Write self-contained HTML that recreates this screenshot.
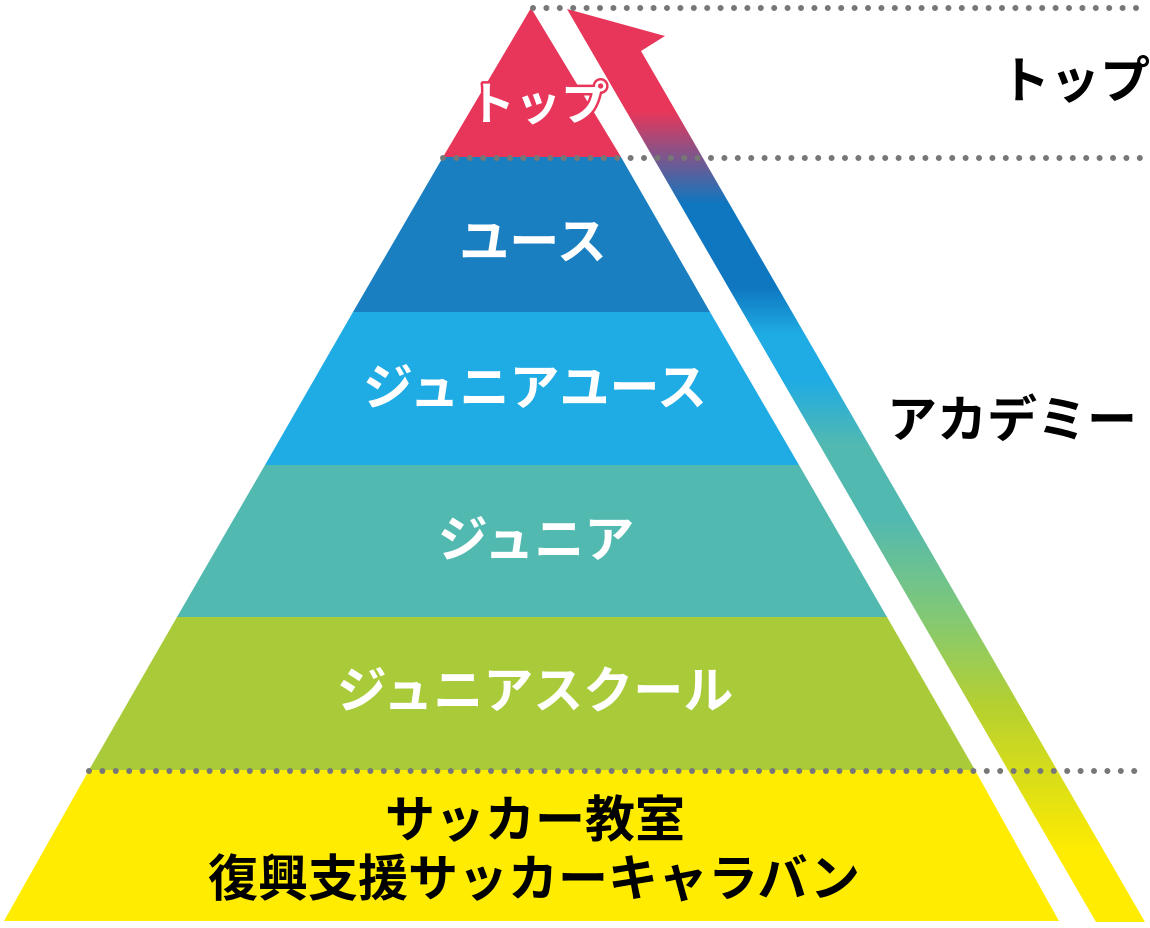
<!DOCTYPE html>
<html><head><meta charset="utf-8"><style>
html,body{margin:0;padding:0;background:#fff;}
svg{display:block;}
text{font-family:"Liberation Sans","Noto Sans CJK JP",sans-serif;font-weight:bold;}
</style></head><body>
<svg width="1150" height="928" viewBox="0 0 1150 928" xmlns="http://www.w3.org/2000/svg">
<defs>
<linearGradient id="g" x1="0" y1="0" x2="0" y2="928" gradientUnits="userSpaceOnUse">
<stop offset="0.12" stop-color="#e8365a"/>
<stop offset="0.22" stop-color="#0e77c0"/>
<stop offset="0.31" stop-color="#0e77c0"/>
<stop offset="0.36" stop-color="#1fabe3"/>
<stop offset="0.41" stop-color="#1fabe3"/>
<stop offset="0.48" stop-color="#52b9b0"/>
<stop offset="0.56" stop-color="#52b9b0"/>
<stop offset="0.66" stop-color="#80c878"/>
<stop offset="0.76" stop-color="#b5d030"/>
<stop offset="0.92" stop-color="#ffec00"/>
</linearGradient>
</defs>
<polygon points="531,8 621,157 443,157" fill="#e8365a"/>
<polygon points="443,157 621,157 710,312 353,312" fill="#1a7fc1"/>
<polygon points="353,312 710,312 799,465 265,465" fill="#1fabe3"/>
<polygon points="265,465 799,465 887,617 177,617" fill="#52b9b0"/>
<polygon points="177,617 887,617 975,770 89,770" fill="#a9cb3a"/>
<polygon points="89,770 975,770 1059,921 4,921" fill="#ffec00"/>
<polygon points="567,9 665,36 641,51 1145,922 1096,922" fill="url(#g)"/>
<line x1="533" y1="8" x2="1145" y2="8" stroke="#777" stroke-width="6" stroke-linecap="round" stroke-dasharray="0 13.4"/>
<line x1="443" y1="158" x2="1145" y2="158" stroke="#777" stroke-width="6" stroke-linecap="round" stroke-dasharray="0 13.4"/>
<line x1="89" y1="771" x2="1140" y2="771" stroke="#777" stroke-width="6" stroke-linecap="round" stroke-dasharray="0 13.4"/>
<g fill="#fff" text-anchor="middle" font-size="50">
<text x="538" y="120" font-size="46" stroke="#e8365a" stroke-width="5" paint-order="stroke" stroke-linejoin="round">トップ</text>
<text x="533" y="259">ユース</text>
<text x="535" y="405">ジュニアユース</text>
<text x="536" y="557">ジュニア</text>
<text x="535" y="708">ジュニアスクール</text>
</g>
<g fill="#000" text-anchor="middle" font-size="50">
<text x="535" y="837">サッカー教室</text>
<text x="534" y="896">復興支援サッカーキャラバン</text>
</g>
<g fill="#000" font-size="50">
<text x="1000" y="98">トップ</text>
<text x="887" y="437">アカデミー</text>
</g>
</svg>
</body></html>
